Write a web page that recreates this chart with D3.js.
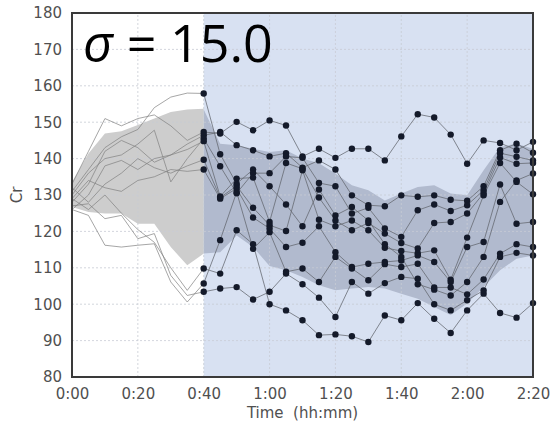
<!DOCTYPE html>
<html>
<head>
<meta charset="utf-8">
<script src="https://cdn.jsdelivr.net/npm/d3@7"></script>
<style>
  body { margin: 0; background: #fff; }
  svg { display: block; }
  .tick text { font-family: "DejaVu Sans", sans-serif; }
</style>
</head>
<body>
<svg id="chart" width="551" height="424"></svg>
<script>
// time axis in minutes, observed part then forecast part
var histTimes = [0, 5, 10, 15, 20, 25, 30, 35, 40];
var predTimes = [40, 45, 50, 55, 60, 65, 70, 75, 80, 85, 90, 95, 100, 105, 110, 115, 120, 125, 130, 135, 140];
var xTicks = [0, 20, 40, 60, 80, 100, 120, 140];
var yTicks = [80, 90, 100, 110, 120, 130, 140, 150, 160, 170, 180];

// observed trajectories (gray lines, 0:00 - 0:40)
var histLines = [
    [133, 142, 151, 149, 151, 152, 149, 145, 147.3],
    [131, 137, 143, 146, 148, 154, 156.9, 158, 157.9],
    [128, 133, 142, 145, 143, 139, 141, 144, 146.4],
    [130, 136, 140, 141, 144, 147.8, 133.6, 140, 145.5],
    [126, 130, 138, 139.5, 137, 140, 141, 142.5, 144.8],
    [132, 128, 133, 136, 140, 137.5, 136, 138, 139.7],
    [129, 134, 132, 131, 134, 135, 137, 136.5, 137.0],
    [129, 126, 130, 125, 120.5, 117, 110, 103.8, 109.8],
    [126, 124.4, 116.2, 115.7, 116.2, 116.6, 106.1, 100.6, 105.7],
    [127, 127.6, 123.5, 124.4, 118, 119.4, 107.9, 102.4, 103.4]
];

// forecast trajectories (dotted lines, 0:40 - 2:20)
var predLines = [
    [147.3, 146.9, 150.1, 147.8, 150.5, 149.1, 140.6, 142.7, 140.2, 142.7, 142.7, 139.5, 146.1, 152.2, 151.3, 146.6, 138.6, 145.0, 144.3, 142.3, 144.6],
    [157.9, 141.2, 133.1, 137.0, 132.4, 127.4, 121.4, 131.5, 124.4, 126.7, 123.0, 116.5, 113.0, 105.5, 104.0, 102.4, 106.1, 113.0, 128.1, 134.0, 135.9],
    [146.4, 147.3, 143.7, 142.3, 140.6, 141.5, 137.5, 139.5, 137.0, 129.9, 127.2, 126.9, 129.9, 129.5, 129.9, 128.7, 128.4, 132.4, 142.3, 144.1, 141.6],
    [145.5, 137.9, 130.5, 136.0, 136.0, 140.6, 140.2, 133.3, 132.4, 124.9, 126.5, 120.8, 118.5, 125.8, 127.4, 125.6, 127.2, 131.3, 141.5, 140.5, 139.5],
    [144.8, 129.6, 134.5, 134.8, 122.6, 138.8, 137.2, 129.3, 123.0, 120.3, 122.3, 119.4, 116.8, 115.3, 122.3, 122.6, 124.9, 130.5, 140.3, 138.6, 138.8],
    [139.7, 129.3, 132.5, 126.5, 121.7, 120.1, 136.8, 123.2, 121.4, 123.0, 120.3, 115.5, 114.6, 114.0, 114.8, 106.7, 118.3, 129.9, 138.8, 133.6, 130.2],
    [137.0, 129.0, 131.8, 123.8, 120.8, 115.7, 116.9, 121.4, 114.3, 110.2, 111.1, 111.6, 112.0, 113.4, 111.6, 106.1, 115.7, 117.1, 132.9, 122.1, 122.6],
    [109.8, 108.4, 120.3, 116.5, 100.0, 98.3, 95.6, 91.5, 91.7, 91.2, 89.6, 96.9, 95.6, 100.3, 96.0, 92.1, 98.3, 102.9, 97.6, 96.3, 100.3],
    [105.7, 117.6, 130.8, 115.2, 119.8, 108.9, 109.8, 106.1, 113.0, 109.8, 106.6, 111.0, 110.2, 111.1, 104.6, 104.6, 102.7, 106.8, 113.9, 116.5, 115.7],
    [103.4, 104.3, 104.7, 101.3, 103.4, 108.4, 105.5, 101.8, 96.5, 106.1, 102.9, 105.8, 107.5, 107.0, 100.0, 98.3, 101.1, 103.8, 113.0, 114.1, 113.4]
];

// envelopes
var histUpper = [133.6, 141.4, 146.9, 147.5, 149.2, 151, 152.8, 153.5, 153.7];
var histLower = [126.7, 125.3, 124.9, 124.9, 122.1, 122.1, 115.7, 110.7, 113.9];
var predUpper = [153.5, 144.1, 143.7, 142.7, 141.8, 142.3, 140.0, 138.7, 135.9, 132.7, 131.3, 128.5, 130.4, 132.2, 132.7, 130.4, 129.9, 136.8, 143.2, 144.1, 142.7];
var predLower = [113.9, 114.3, 118.9, 115.7, 110.5, 109.3, 107.5, 105.2, 103.8, 104.3, 104.7, 104.3, 102.9, 101.5, 99.2, 97.0, 100.2, 104.7, 109.3, 112.5, 113.4];

var sigmaValue = "15.0";

var margin = { left: 72, right: 18, top: 13, bottom: 47 };
var width = 551, height = 424;

var svg = d3.select("#chart");

var x = d3.scaleLinear().domain([0, 140]).range([margin.left, width - margin.right]);
var y = d3.scaleLinear().domain([80, 180]).range([height - margin.bottom, margin.top]);

function fmtTime(m) {
    var h = Math.floor(m / 60);
    var mm = m % 60;
    return h + ":" + (mm < 10 ? "0" + mm : mm);
}

// forecast background
svg.append("rect")
    .attr("x", x(40))
    .attr("y", y(180))
    .attr("width", x(140) - x(40))
    .attr("height", y(80) - y(180))
    .attr("fill", "#d8e1f2");

function bandArea(times, lower) {
    return d3.area()
        .x(function (d, i) { return x(times[i]); })
        .y0(function (d, i) { return y(lower[i]); })
        .y1(function (d) { return y(d); });
}

svg.append("path")
    .datum(histUpper)
    .attr("d", bandArea(histTimes, histLower))
    .attr("fill", "#cdcdcd");

svg.append("path")
    .datum(predUpper)
    .attr("d", bandArea(predTimes, predLower))
    .attr("fill", "#b1bace");

// grid
var grid = svg.append("g").attr("class", "grid");
grid.selectAll(".gx")
    .data(xTicks.slice(1, -1))
    .enter()
    .append("line")
    .attr("x1", function (d) { return x(d); })
    .attr("x2", function (d) { return x(d); })
    .attr("y1", y(80))
    .attr("y2", y(180));
grid.selectAll(".gy")
    .data(yTicks.slice(1, -1))
    .enter()
    .append("line")
    .attr("x1", x(0))
    .attr("x2", x(140))
    .attr("y1", function (d) { return y(d); })
    .attr("y2", function (d) { return y(d); });
grid.selectAll("line")
    .attr("stroke", "#c8ccd4")
    .attr("stroke-width", 0.8)
    .attr("stroke-dasharray", "2,2");

// observed lines
var histLine = d3.line()
    .x(function (d, i) { return x(histTimes[i]); })
    .y(function (d) { return y(d); });

svg.append("g")
    .selectAll("path")
    .data(histLines)
    .enter()
    .append("path")
    .attr("d", histLine)
    .attr("fill", "none")
    .attr("stroke", "#808080")
    .attr("stroke-opacity", 0.7)
    .attr("stroke-width", 1);

// forecast lines
var predLine = d3.line()
    .x(function (d, i) { return x(predTimes[i]); })
    .y(function (d) { return y(d); });

svg.append("g")
    .selectAll("path")
    .data(predLines)
    .enter()
    .append("path")
    .attr("d", predLine)
    .attr("fill", "none")
    .attr("stroke", "#62666f")
    .attr("stroke-opacity", 0.85)
    .attr("stroke-width", 0.9);

var dots = [];
predLines.forEach(function (s) {
    s.forEach(function (v, i) { dots.push({ t: predTimes[i], v: v }); });
});

svg.append("g")
    .selectAll("circle")
    .data(dots)
    .enter()
    .append("circle")
    .attr("cx", function (d) { return x(d.t); })
    .attr("cy", function (d) { return y(d.v); })
    .attr("r", 3.2)
    .attr("fill", "#141a2a");

// axes
var xAxis = svg.append("g")
    .attr("transform", "translate(0," + y(80) + ")")
    .call(d3.axisBottom(x).tickValues(xTicks).tickFormat(fmtTime).tickSize(0).tickPadding(11));
var yAxis = svg.append("g")
    .attr("transform", "translate(" + x(0) + ",0)")
    .call(d3.axisLeft(y).tickValues(yTicks).tickSize(0).tickPadding(10));

[xAxis, yAxis].forEach(function (g) {
    g.select(".domain").remove();
    g.selectAll("text")
        .attr("fill", "#505050")
        .style("font-size", "15px");
});

// frame
svg.append("rect")
    .attr("x", x(0))
    .attr("y", y(180))
    .attr("width", x(140) - x(0))
    .attr("height", y(80) - y(180))
    .attr("fill", "none")
    .attr("stroke", "#3a3a3a")
    .attr("stroke-width", 2);

// axis titles
svg.append("text")
    .attr("x", (x(0) + x(140)) / 2)
    .attr("y", 418)
    .attr("text-anchor", "middle")
    .attr("fill", "#505050")
    .style("font-family", "DejaVu Sans, sans-serif")
    .style("font-size", "15px")
    .style("white-space", "pre")
    .text("Time  (hh:mm)");

svg.append("text")
    .attr("transform", "translate(22," + y(130) + ") rotate(-90)")
    .attr("text-anchor", "middle")
    .attr("fill", "#505050")
    .style("font-family", "DejaVu Sans, sans-serif")
    .style("font-size", "15px")
    .text("Cr");

// sigma label
var sig = svg.append("text")
    .attr("x", 83)
    .attr("y", 62)
    .attr("fill", "#000")
    .style("font-family", "Open Sans, sans-serif")
    .style("font-size", "52px")
    .style("white-space", "pre");
sig.append("tspan").style("font-style", "italic").text("σ");
sig.append("tspan").text(" = " + sigmaValue);
</script>
</body>
</html>
